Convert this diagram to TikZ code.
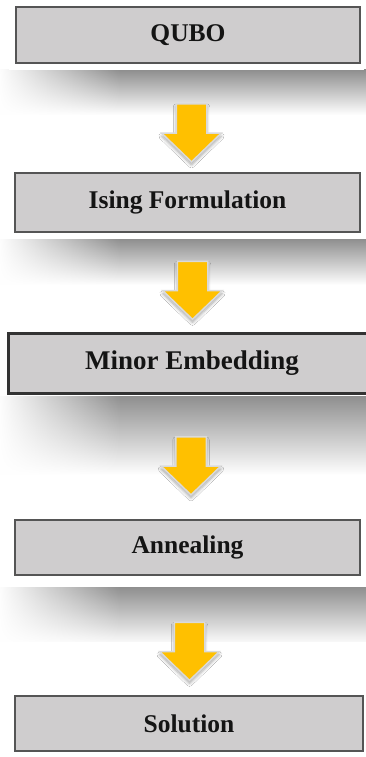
\documentclass[tikz,border=0pt]{standalone}
\usepackage{fontspec}
\setmainfont{Liberation Serif}
\usetikzlibrary{shapes.arrows,shadows.blur,fadings}

\definecolor{boxfill}{RGB}{207,205,206}
\definecolor{boxline}{RGB}{85,85,85}
\definecolor{flowyellow}{RGB}{255,192,0}
\definecolor{arrowrim}{RGB}{218,218,218}

\tikzfading[name=fade to right, left color=transparent!0, right color=transparent!100]

\tikzset{
  stagebox/.style={draw=boxline, line width=1.2pt, fill=boxfill, inner sep=0pt,
    font=\bfseries\fontsize{25.5}{25.5}\selectfont, text=black!92},
  flowarrow/.style={single arrow, rotate=-90, fill=flowyellow, draw=arrowrim,
    line width=1.5pt, inner xsep=0pt, inner ysep=14.5pt, minimum height=58pt,
    single arrow head extend=14.5pt, single arrow tip angle=92,
    blur shadow={shadow xshift=0pt, shadow yshift=-3pt, shadow blur steps=6,
      shadow blur radius=3pt, shadow opacity=35}},
  frame/.style={fill=white},
  castshadow/.style={top color=black!44, bottom color=white, draw=none},
}

% soft shadow band below a white frame: #1 = top y, #2 = bottom y
\newcommand{\bandshadow}[2]{%
  \shade[castshadow] (0,#1) rectangle (366,#2);
  \fill[white, path fading=fade to right] (-2,#1-2) rectangle (120,#2+2);
}

\begin{document}
\begin{tikzpicture}[x=1pt, y=-1pt]
  \useasboundingbox (0,0) rectangle (366,757);
  \fill[white] (0,0) rectangle (366,757);

  % shadow bands cast by the stage frames
  \bandshadow{70}{115}
  \bandshadow{239}{285}
  \bandshadow{396}{475}
  \bandshadow{587}{645}

  % white frames behind the stages
  \fill[frame] (9,0) rectangle (364,70);
  \fill[frame] (8,170) rectangle (364,239);
  \fill[frame] (0,328) rectangle (366,396);
  \fill[frame] (8,510) rectangle (366,587);
  \fill[frame] (0,642) rectangle (366,757);

  % stages
  \node[stagebox, minimum width=344pt, minimum height=56pt] (qubo) at (188,35) {QUBO};
  \node[stagebox, minimum width=345pt, minimum height=59pt] (ising) at (187.5,202.5) {Ising Formulation};
  \node[stagebox, draw=black!80, line width=3pt, minimum width=368pt, minimum height=60pt,
        font=\bfseries\fontsize{27}{27}\selectfont] (minor) at (192,363) {Minor Embedding};
  \node[stagebox, minimum width=345pt, minimum height=55pt] (anneal) at (187.5,547.5) {Annealing};
  \node[stagebox, minimum width=348pt, minimum height=55pt] (sol) at (189,723.5) {Solution};

  % flow arrows between the stages
  \node[flowarrow] (a1) at (191.5,125.5) {};
  \node[flowarrow] (a2) at (192.5,283) {};
  \node[flowarrow] (a3) at (191,458.5) {};
  \node[flowarrow] (a4) at (189.5,644) {};
\end{tikzpicture}
\end{document}
